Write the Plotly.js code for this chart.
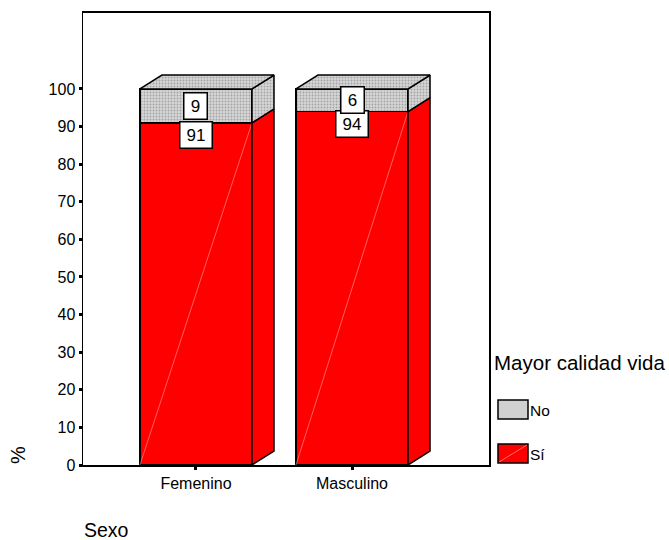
<!DOCTYPE html>
<html>
<head>
<meta charset="utf-8">
<script src="https://cdn.plot.ly/plotly-3.0.1.min.js"></script>
<style>html,body{margin:0;padding:0;background:#fff;}#chart{width:669px;height:540px;}</style>
</head>
<body>
<div id="chart"></div>
<script>
// ---- data ----
const categories = ['Femenino', 'Masculino'];
const siValues = [91, 94];
const noValues = [9, 6];
const siLabels = ['91', '94'];
const noLabels = ['9', '6'];
const yTickVals = [0, 10, 20, 30, 40, 50, 60, 70, 80, 90, 100];
const seriesNames = ['Sí', 'No'];

// ---- style / geometry ----
const FONT = 'Liberation Sans, Arial, sans-serif';
const RED = '#ff0000';
const BW = 0.718;          // bar width (category units)
const DX = 0.141;          // 3D depth in x units
const DY = 3.7;            // 3D depth in y units
const W = 669, H = 540;
const M = {l: 83, r: 180, t: 13, b: 75};
const pw = W - M.l - M.r, ph = H - M.t - M.b;
const px2x = p => (p - M.l) / pw;
const px2y = p => (H - M.b - p) / ph;
const greyPattern = {shape: '.', bgcolor: '#d6d6d6', fgcolor: '#a4a4a4', size: 3, solidity: 0.3};
const edge = {color: '#000', width: 1.5};

const xPos = categories.map((c, i) => i);
const totals = siValues.map((v, i) => v + noValues[i]);

const traces = [];
traces.push({
  type: 'bar', x: xPos, y: siValues, width: BW, name: seriesNames[0],
  marker: {color: RED, line: edge}, showlegend: false, hoverinfo: 'skip'
});
traces.push({
  type: 'bar', x: xPos, y: noValues, width: BW, name: seriesNames[1],
  marker: {color: '#d6d6d6', pattern: greyPattern, line: edge}, showlegend: false, hoverinfo: 'skip'
});

xPos.forEach((x, i) => {
  const xl = x - BW / 2, xr = x + BW / 2;
  const si = siValues[i], tot = totals[i];
  traces.push({type: 'scatter', mode: 'lines', x: [xl, xr], y: [0, si],
    line: {color: 'rgba(255,170,170,0.8)', width: 0.7}, showlegend: false, hoverinfo: 'skip'});
  traces.push({type: 'scatter', mode: 'lines', fill: 'toself', fillcolor: RED,
    x: [xr, xr + DX, xr + DX, xr, xr], y: [0, DY, si + DY, si, 0],
    line: edge, showlegend: false, hoverinfo: 'skip'});
  traces.push({type: 'scatter', mode: 'lines', fill: 'toself', fillcolor: '#d6d6d6', fillpattern: greyPattern,
    x: [xr, xr + DX, xr + DX, xr, xr], y: [si, si + DY, tot + DY, tot, si],
    line: edge, showlegend: false, hoverinfo: 'skip'});
  traces.push({type: 'scatter', mode: 'lines', fill: 'toself', fillcolor: '#d6d6d6', fillpattern: greyPattern,
    x: [xl, xl + DX, xr + DX, xr, xl], y: [tot, tot + DY, tot + DY, tot, tot],
    line: edge, showlegend: false, hoverinfo: 'skip'});
});

const annotations = [];
const boxW = s => 7 + 9 * s.length;
xPos.forEach((x, i) => {
  annotations.push({x: x, y: siValues[i], xref: 'x', yref: 'y', yanchor: 'top', yshift: 2,
    text: siLabels[i], width: boxW(siLabels[i]), showarrow: false, bgcolor: '#fff', bordercolor: '#000', borderwidth: 1.5,
    borderpad: 3, font: {family: FONT, size: 17, color: '#000'}});
  annotations.push({x: x, y: siValues[i] + noValues[i] / 2, xref: 'x', yref: 'y', yanchor: 'middle',
    text: noLabels[i], width: boxW(noLabels[i]), showarrow: false, bgcolor: '#fff', bordercolor: '#000', borderwidth: 1.5,
    borderpad: 3, font: {family: FONT, size: 17, color: '#000'}});
});
const pa = (x, y, text, size, extra) => Object.assign({xref: 'paper', yref: 'paper', x: px2x(x), y: px2y(y),
  xanchor: 'left', yanchor: 'middle', text: text, showarrow: false,
  font: {family: FONT, size: size, color: '#000'}}, extra || {});
annotations.push(pa(18, 455, '%', 20, {xanchor: 'center', textangle: -90}));
annotations.push(pa(82, 530, 'Sexo', 19.5));
annotations.push(pa(492, 362, 'Mayor calidad vida', 20.5));
annotations.push(pa(528, 410, seriesNames[1], 15.5));
annotations.push(pa(528, 454, seriesNames[0], 15.5));

const shapes = [
  {type: 'rect', xref: 'paper', yref: 'paper', x0: px2x(498), x1: px2x(528), y0: px2y(419), y1: px2y(400),
    fillcolor: '#d0d0d0', line: {color: '#000', width: 1.5}},
  {type: 'rect', xref: 'paper', yref: 'paper', x0: px2x(498), x1: px2x(528), y0: px2y(463), y1: px2y(444),
    fillcolor: RED, line: {color: '#000', width: 1.5}},
  {type: 'line', xref: 'paper', yref: 'paper', x0: px2x(499), x1: px2x(527), y0: px2y(462), y1: px2y(445),
    line: {color: 'rgba(255,170,170,0.9)', width: 0.7}}
];

const layout = {
  width: W, height: H, margin: M,
  paper_bgcolor: '#fff', plot_bgcolor: '#fff',
  barmode: 'stack', showlegend: false,
  font: {family: FONT, size: 15, color: '#000'},
  xaxis: {range: [-0.724, 1.878], tickvals: xPos, ticktext: categories,
    ticks: 'outside', ticklen: 3, tickwidth: 3, tickcolor: '#000',
    showline: true, linecolor: '#000', linewidth: 2, mirror: true,
    showgrid: false, zeroline: false, fixedrange: true,
    tickfont: {family: FONT, size: 16, color: '#000'}},
  yaxis: {range: [0, 120.2], tickvals: yTickVals,
    ticks: 'outside', ticklen: 3, tickwidth: 3, tickcolor: '#000',
    showline: true, linecolor: '#000', linewidth: 1.5, mirror: true,
    showgrid: false, zeroline: false, fixedrange: true,
    tickfont: {family: FONT, size: 16, color: '#000'}},
  annotations: annotations,
  shapes: shapes
};

Plotly.newPlot('chart', traces, layout, {staticPlot: true});
</script>
</body>
</html>
